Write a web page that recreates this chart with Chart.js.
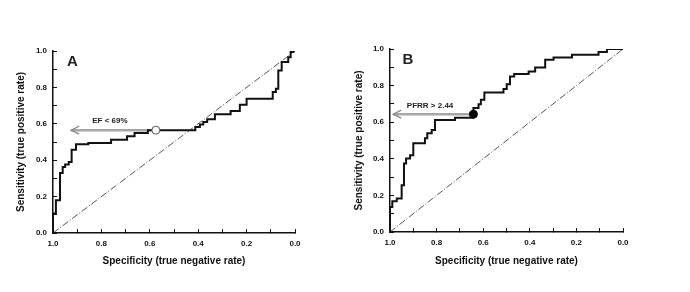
<!DOCTYPE html>
<html>
<head>
<meta charset="utf-8">
<script src="https://cdn.jsdelivr.net/npm/chart.js@4.4.1/dist/chart.umd.min.js"></script>
<style>
  body { margin: 0; background: #fff; width: 690px; height: 292px; position: relative; overflow: hidden; }
  canvas { position: absolute; top: 0; }
</style>
</head>
<body>
<canvas id="chartA" width="310" height="292" style="left:0px"></canvas>
<canvas id="chartB" width="310" height="292" style="left:340px"></canvas>
<script>
// panel A: EF
const specA = [1.0, 1.0, 0.988, 0.971, 0.96, 0.95, 0.935, 0.923, 0.905, 0.854, 0.76, 0.694, 0.663, 0.608,
               0.412, 0.393, 0.379, 0.363, 0.331, 0.266, 0.228, 0.2, 0.092, 0.079, 0.069, 0.055, 0.028, 0.018, 0.007, 0.0];
const sensA = [0.0, 0.107, 0.18, 0.33, 0.363, 0.376, 0.39, 0.458, 0.487, 0.495, 0.513, 0.531, 0.549, 0.565,
               0.582, 0.596, 0.61, 0.625, 0.652, 0.67, 0.705, 0.738, 0.775, 0.793, 0.893, 0.94, 0.966, 0.994, 1.0, 1.0];
const cutA = [0.575, 0.565];      // EF < 69%
const arrowEndA = 0.925;

// panel B: PFRR
const specB = [1.0, 1.0, 0.99, 0.971, 0.95, 0.94, 0.931, 0.914, 0.9, 0.85, 0.84, 0.821, 0.807, 0.721,
               0.642, 0.62, 0.61, 0.595, 0.513, 0.499, 0.485, 0.467, 0.405, 0.377, 0.334, 0.298, 0.219, 0.105, 0.069, 0.0];
const sensB = [0.0, 0.137, 0.168, 0.183, 0.256, 0.375, 0.402, 0.42, 0.485, 0.512, 0.54, 0.558, 0.612, 0.625,
               0.677, 0.698, 0.722, 0.762, 0.782, 0.808, 0.85, 0.863, 0.877, 0.899, 0.941, 0.954, 0.969, 0.984, 1.0, 1.0];
const cutB = [0.642, 0.644];      // PFRR > 2.44
const arrowEndB = 0.986;

const axisTicks = [0, 0.1, 0.2, 0.3, 0.4, 0.5, 0.6, 0.7, 0.8, 0.9, 1.0];

const FONT = '"Liberation Sans", Arial, sans-serif';

function toXY(xs, ys) {
    return xs.map((x, i) => ({ x: x, y: ys[i] }));
}

// arrow head + annotation text, placed in data units
const annotate = {
    id: 'annotate',
    afterDatasetsDraw(chart, args, opts) {
        const ctx = chart.ctx;
        const sx = chart.scales.x, sy = chart.scales.y;
        const tipX = sx.getPixelForValue(opts.arrowEnd);
        const tipY = sy.getPixelForValue(opts.cut[1]);
        ctx.save();
        ctx.strokeStyle = '#8c8c8c';
        ctx.lineWidth = 1.3;
        ctx.beginPath();
        ctx.moveTo(tipX + 8, tipY - 4);
        ctx.lineTo(tipX, tipY);
        ctx.lineTo(tipX + 8, tipY + 4);
        ctx.stroke();

        ctx.fillStyle = '#222';
        ctx.textAlign = 'center';
        ctx.textBaseline = 'middle';
        ctx.font = 'bold 8px ' + FONT;
        ctx.fillText(opts.label, sx.getPixelForValue(opts.labelAt[0]), sy.getPixelForValue(opts.labelAt[1]));
        ctx.font = 'bold 15px ' + FONT;
        ctx.fillText(opts.letter, sx.getPixelForValue(opts.letterAt[0]), sy.getPixelForValue(opts.letterAt[1]));
        ctx.restore();
    }
};

function makeScale(axis, fit, titleText, titlePad) {
    return {
        type: 'linear',
        min: 0,
        max: 1,
        reverse: axis === 'x',
        position: axis === 'x' ? 'bottom' : 'left',
        afterBuildTicks: s => { s.ticks = axisTicks.map(v => ({ value: v })); },
        afterFit: s => { if (axis === 'x') s.height = fit; else s.width = fit; },
        ticks: {
            color: '#111',
            font: { family: FONT, size: 8, weight: 'bold' },
            padding: 10,
            maxRotation: 0,
            autoSkip: false,
            callback: v => (Math.round(v * 10) % 2 === 0 ? v.toFixed(1) : '')
        },
        grid: { drawOnChartArea: false, drawTicks: true, tickLength: -4, tickColor: '#111', tickWidth: 1 },
        border: { color: '#111', width: 1.5 },
        title: {
            display: true,
            text: titleText,
            color: '#111',
            font: { family: FONT, size: 10, weight: 'bold' },
            padding: titlePad
        }
    };
}

function renderROC(id, spec, sens, cut, arrowEnd, marker, pad, yWidth, xHeight, yTitlePad, note) {
    new Chart(document.getElementById(id), {
        type: 'line',
        data: {
            datasets: [
                {
                    data: [{ x: cut[0], y: cut[1] }],
                    showLine: false,
                    pointRadius: 4,
                    pointBorderWidth: 1,
                    pointBackgroundColor: marker === 'open' ? '#fff' : '#000',
                    pointBorderColor: marker === 'open' ? '#555' : '#000',
                    order: 0
                },
                {
                    data: toXY(spec, sens),
                    stepped: 'before',
                    borderColor: '#111',
                    borderWidth: 2,
                    pointRadius: 0,
                    order: 1
                },
                {
                    data: [{ x: cut[0], y: cut[1] }, { x: arrowEnd, y: cut[1] }],
                    borderColor: '#a6a6a6',
                    borderWidth: 2.5,
                    pointRadius: 0,
                    order: 2
                },
                {
                    data: [{ x: 1, y: 0 }, { x: 0, y: 1 }],
                    borderColor: '#555',
                    borderWidth: 1,
                    borderDash: [7, 2, 1, 2],
                    pointRadius: 0,
                    order: 3
                }
            ]
        },
        options: {
            responsive: false,
            animation: false,
            devicePixelRatio: 1,
            layout: { padding: pad },
            plugins: {
                legend: { display: false },
                tooltip: { enabled: false },
                annotate: Object.assign({ cut: cut, arrowEnd: arrowEnd }, note)
            },
            scales: {
                x: makeScale('x', xHeight, 'Specificity (true negative rate)', { top: 0, bottom: 25 }),
                y: makeScale('y', yWidth, 'Sensitivity (true positive rate)', { top: yTitlePad, bottom: 0 })
            }
        },
        plugins: [annotate]
    });
}

renderROC('chartA', specA, sensA, cutA, arrowEndA, 'open',
    { left: 0, top: 51, right: 15, bottom: 0 }, 53, 59, 15,
    { label: 'EF < 69%', labelAt: [0.765, 0.615], letter: 'A', letterAt: [0.92, 0.94] });

renderROC('chartB', specB, sensB, cutB, arrowEndB, 'filled',
    { left: 0, top: 49, right: 27, bottom: 0 }, 50, 60, 13,
    { label: 'PFRR > 2.44', labelAt: [0.828, 0.689], letter: 'B', letterAt: [0.923, 0.941] });
</script>
</body>
</html>
